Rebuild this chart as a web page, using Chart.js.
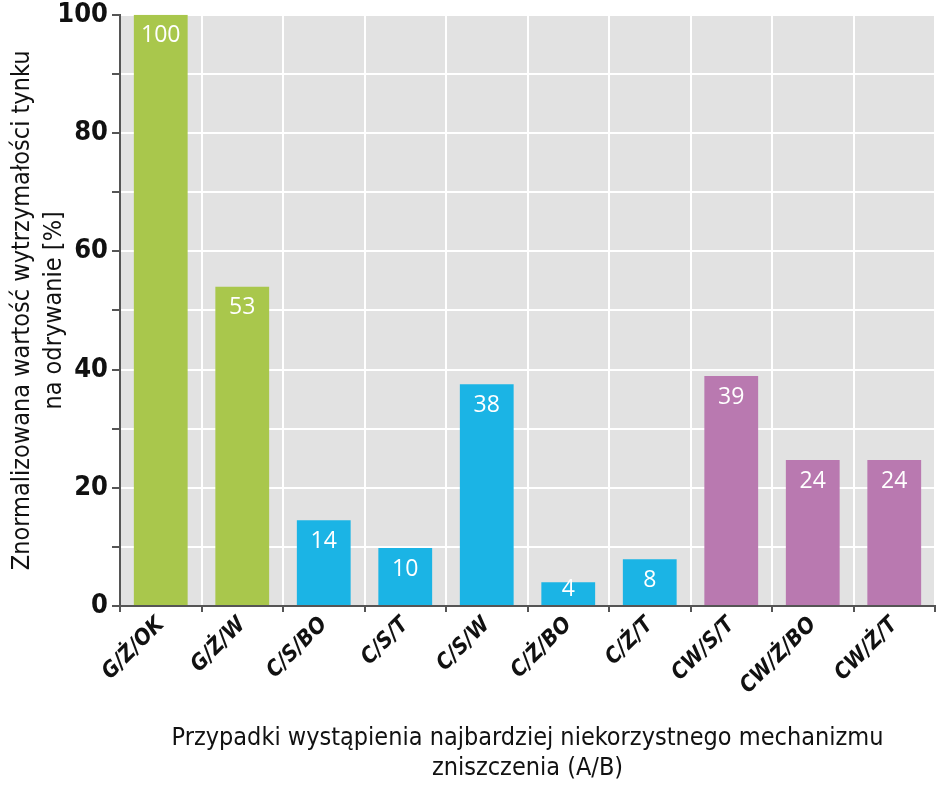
<!DOCTYPE html>
<html>
<head>
<meta charset="utf-8">
<script src="https://cdn.jsdelivr.net/npm/chart.js@4/dist/chart.umd.min.js"></script>
<style>
html,body{margin:0;padding:0;background:#fff;}
#wrap{width:938px;height:786px;position:relative;}
</style>
</head>
<body>
<div id="wrap"><canvas id="c" width="938" height="786"></canvas></div>
<script>
const categories = ['G/Ż/OK','G/Ż/W','C/S/BO','C/S/T','C/S/W','C/Ż/BO','C/Ż/T','CW/S/T','CW/Ż/BO','CW/Ż/T'];
const barValues = [100, 54, 14.5, 9.8, 37.5, 4.0, 7.9, 38.9, 24.7, 24.7];
const valueLabels = ['100','53','14','10','38','4','8','39','24','24'];
const groups = ['G','G','C','C','C','C','C','CW','CW','CW'];
const groupColors = {G:'#a9c74c', C:'#1bb4e5', CW:'#b979b0'};
const yTickLabels = {0:'0',20:'20',40:'40',60:'60',80:'80',100:'100'};
const yTitle = ['Znormalizowana wartość wytrzymałości tynku','na odrywanie [%]'];
const xTitle = ['Przypadki wystąpienia najbardziej niekorzystnego mechanizmu','zniszczenia (A/B)'];

const NARROW = "'DejaVu Sans Condensed','Liberation Sans',sans-serif";

const bgPlugin = {
  id:'bg',
  beforeDraw(chart){
    const {ctx, chartArea:a} = chart;
    ctx.save();
    ctx.fillStyle = '#e2e2e2';
    ctx.fillRect(a.left, a.top, a.right-a.left, a.bottom-a.top);
    ctx.restore();
  }
};
const labelPlugin = {
  id:'vals',
  afterDatasetsDraw(chart){
    const {ctx} = chart;
    const meta = chart.getDatasetMeta(0);
    ctx.save();
    ctx.fillStyle = '#ffffff';
    ctx.font = "400 23px 'Open Sans', sans-serif";
    ctx.textAlign = 'center';
    ctx.textBaseline = 'middle';
    meta.data.forEach((el,i)=>{
      const y = Math.min(el.y + 21, el.base - 16);
      ctx.fillText(valueLabels[i], el.x, y);
    });
    ctx.restore();
  }
};

new Chart(document.getElementById('c'), {
  type:'bar',
  data:{
    labels: categories,
    datasets:[{
      data: barValues,
      backgroundColor: groups.map(g=>groupColors[g]),
      borderWidth:0,
      barPercentage:0.66,
      categoryPercentage:1.0
    }]
  },
  options:{
    responsive:false,
    animation:false,
    layout:{padding:{left:0,right:3,top:0,bottom:0}},
    plugins:{legend:{display:false},tooltip:{enabled:false}},
    scales:{
      x:{
        offset:true,
        grid:{offset:true,color:'#ffffff',lineWidth:2,tickColor:'#555',tickLength:6,drawOnChartArea:true},
        border:{color:'#555',width:2},
        ticks:{
          color:'#111',
          maxRotation:45,minRotation:45,
          font:{family:NARROW,size:22,style:'italic',weight:'bold'},
          padding:0
        },
        title:{
          display:true,
          text:xTitle,
          color:'#111',
          font:{family:NARROW,size:25,lineHeight:1.2},
          padding:{top:0,bottom:3}
        },
        afterFit(s){ s.height = 180; }
      },
      y:{
        min:0,max:100,
        grid:{color:'#ffffff',lineWidth:2,tickColor:'#555',tickLength:8},
        border:{color:'#555',width:2},
        ticks:{
          stepSize:10,
          color:'#111',
          font:{family:NARROW,size:27,weight:'bold',lineHeight:0.8},
          padding:4,
          callback:(v)=> (yTickLabels[v]!==undefined ? yTickLabels[v] : '')
        },
        title:{
          display:true,
          text:yTitle,
          color:'#111',
          font:{family:NARROW,size:25,lineHeight:1.3},
          padding:{top:6,bottom:0}
        },
        afterFit(s){ s.width = 120; }
      }
    }
  },
  plugins:[bgPlugin,labelPlugin]
});
</script>
</body>
</html>
